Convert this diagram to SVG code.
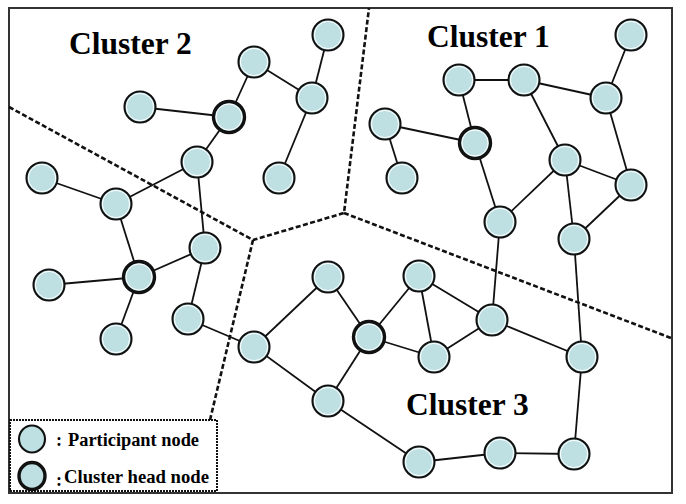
<svg xmlns="http://www.w3.org/2000/svg" width="686" height="504" viewBox="0 0 686 504">
<style>
.edge{stroke:#111;stroke-width:1.8;fill:none}
.div{stroke:#111;stroke-width:2.6;fill:none;stroke-dasharray:5 2.5}
.n{fill:#BEE0E3;stroke:#111;stroke-width:2.1}
.h{fill:#BEE0E3;stroke:#111;stroke-width:3.4}
.ring{fill:none;stroke:#fff;stroke-width:1}
.title{font-family:"Liberation Serif","Times New Roman",serif;font-weight:bold;font-size:31.5px;fill:#000}
.leg{font-family:"Liberation Serif","Times New Roman",serif;font-weight:bold;font-size:18px;fill:#000}
</style>
<defs>
<g id="pn"><circle r="15.5" class="n"/><circle r="13.6" class="ring"/></g>
<g id="hn"><circle r="15.5" class="h"/><circle r="13" class="ring"/></g>
</defs>
<rect x="0" y="0" width="686" height="504" fill="#fff"/>
<rect x="9" y="8" width="663" height="485" fill="#fff" stroke="#333" stroke-width="2"/>
<g id="boundaries">
<polyline class="div" points="9,107 253,240 344,213 369,8"/>
<polyline class="div" points="344,213 671,338"/>
<polyline class="div" points="253,240 210,420"/>
</g>
<g id="connectors">
<!-- Cluster 2 -->
<line class="edge" x1="328" y1="35" x2="312" y2="98"/>
<line class="edge" x1="254" y1="62" x2="312" y2="98"/>
<line class="edge" x1="254" y1="62" x2="229" y2="117"/>
<line class="edge" x1="312" y1="98" x2="279" y2="178"/>
<line class="edge" x1="140" y1="107" x2="229" y2="117"/>
<line class="edge" x1="229" y1="117" x2="197" y2="162"/>
<line class="edge" x1="197" y1="162" x2="116" y2="204"/>
<line class="edge" x1="197" y1="162" x2="205" y2="248"/>
<line class="edge" x1="42" y1="178" x2="116" y2="204"/>
<line class="edge" x1="116" y1="204" x2="139" y2="277"/>
<line class="edge" x1="139" y1="277" x2="205" y2="248"/>
<line class="edge" x1="139" y1="277" x2="49" y2="285"/>
<line class="edge" x1="139" y1="277" x2="116" y2="339"/>
<line class="edge" x1="205" y1="248" x2="188" y2="319"/>
<line class="edge" x1="188" y1="319" x2="254" y2="347"/>
<!-- Cluster 1 -->
<line class="edge" x1="631" y1="35" x2="606" y2="98"/>
<line class="edge" x1="459" y1="80" x2="524" y2="80"/>
<line class="edge" x1="524" y1="80" x2="606" y2="98"/>
<line class="edge" x1="459" y1="80" x2="475" y2="143"/>
<line class="edge" x1="385" y1="124" x2="475" y2="143"/>
<line class="edge" x1="385" y1="124" x2="402" y2="178"/>
<line class="edge" x1="524" y1="80" x2="565" y2="160"/>
<line class="edge" x1="606" y1="98" x2="631" y2="185"/>
<line class="edge" x1="565" y1="160" x2="631" y2="185"/>
<line class="edge" x1="475" y1="143" x2="500" y2="222"/>
<line class="edge" x1="565" y1="160" x2="500" y2="222"/>
<line class="edge" x1="565" y1="160" x2="574" y2="239"/>
<line class="edge" x1="631" y1="185" x2="574" y2="239"/>
<line class="edge" x1="500" y1="222" x2="492" y2="320"/>
<line class="edge" x1="574" y1="239" x2="582" y2="357"/>
<!-- Cluster 3 -->
<line class="edge" x1="254" y1="347" x2="328" y2="277"/>
<line class="edge" x1="254" y1="347" x2="328" y2="401"/>
<line class="edge" x1="328" y1="277" x2="369" y2="337"/>
<line class="edge" x1="328" y1="401" x2="369" y2="337"/>
<line class="edge" x1="369" y1="337" x2="419" y2="276"/>
<line class="edge" x1="369" y1="337" x2="434" y2="357"/>
<line class="edge" x1="419" y1="276" x2="434" y2="357"/>
<line class="edge" x1="419" y1="276" x2="492" y2="320"/>
<line class="edge" x1="434" y1="357" x2="492" y2="320"/>
<line class="edge" x1="492" y1="320" x2="582" y2="357"/>
<line class="edge" x1="328" y1="401" x2="419" y2="462"/>
<line class="edge" x1="419" y1="462" x2="500" y2="453"/>
<line class="edge" x1="500" y1="453" x2="574" y2="454"/>
<line class="edge" x1="574" y1="454" x2="582" y2="357"/>
</g>
<g id="cluster2-nodes">
<use id="n-c2-1" href="#pn" x="328" y="35"/>
<use id="n-c2-2" href="#pn" x="254" y="62"/>
<use id="n-c2-3" href="#pn" x="312" y="98"/>
<use id="n-c2-4" href="#pn" x="140" y="107"/>
<use id="n-c2-head" href="#hn" x="229" y="117"/>
<use id="n-c2-5" href="#pn" x="197" y="162"/>
<use id="n-c2-6" href="#pn" x="279" y="178"/>
<use id="n-c2-7" href="#pn" x="42" y="178"/>
<use id="n-c2-8" href="#pn" x="116" y="204"/>
<use id="n-c2-9" href="#pn" x="205" y="248"/>
<use id="n-c2-head2" href="#hn" x="139" y="277"/>
<use id="n-c2-10" href="#pn" x="49" y="285"/>
<use id="n-c2-11" href="#pn" x="116" y="339"/>
<use id="n-c2-12" href="#pn" x="188" y="319"/>
</g>
<g id="cluster1-nodes">
<use id="n-c1-1" href="#pn" x="631" y="35"/>
<use id="n-c1-2" href="#pn" x="459" y="80"/>
<use id="n-c1-3" href="#pn" x="524" y="80"/>
<use id="n-c1-4" href="#pn" x="606" y="98"/>
<use id="n-c1-5" href="#pn" x="385" y="124"/>
<use id="n-c1-head" href="#hn" x="475" y="143"/>
<use id="n-c1-6" href="#pn" x="402" y="178"/>
<use id="n-c1-7" href="#pn" x="565" y="160"/>
<use id="n-c1-8" href="#pn" x="631" y="185"/>
<use id="n-c1-9" href="#pn" x="500" y="222"/>
<use id="n-c1-10" href="#pn" x="574" y="239"/>
</g>
<g id="cluster3-nodes">
<use id="n-c3-1" href="#pn" x="254" y="347"/>
<use id="n-c3-2" href="#pn" x="328" y="277"/>
<use id="n-c3-3" href="#pn" x="328" y="401"/>
<use id="n-c3-head" href="#hn" x="369" y="337"/>
<use id="n-c3-4" href="#pn" x="419" y="276"/>
<use id="n-c3-5" href="#pn" x="434" y="357"/>
<use id="n-c3-6" href="#pn" x="492" y="320"/>
<use id="n-c3-7" href="#pn" x="582" y="357"/>
<use id="n-c3-8" href="#pn" x="419" y="462"/>
<use id="n-c3-9" href="#pn" x="500" y="453"/>
<use id="n-c3-10" href="#pn" x="574" y="454"/>
</g>
<g id="titles">
<text class="title" x="69" y="54">Cluster 2</text>
<text class="title" x="427" y="47">Cluster 1</text>
<text class="title" x="406" y="415">Cluster 3</text>
</g>
<g id="legend">
<rect x="10" y="420" width="207" height="71" fill="#fff" stroke="#111" stroke-width="2" stroke-dasharray="2 1"/>
<ellipse cx="32" cy="439" rx="13" ry="13.5" class="n"/>
<ellipse cx="32" cy="476" rx="13" ry="13.5" class="h"/>
<text class="leg" y="446"><tspan x="56">:</tspan><tspan x="68" textLength="131" lengthAdjust="spacingAndGlyphs">Participant node</tspan></text>
<text class="leg" y="483"><tspan x="56" dy="3">:</tspan><tspan x="64" dy="-3" textLength="145" lengthAdjust="spacingAndGlyphs">Cluster head node</tspan></text>
</g>
</svg>
